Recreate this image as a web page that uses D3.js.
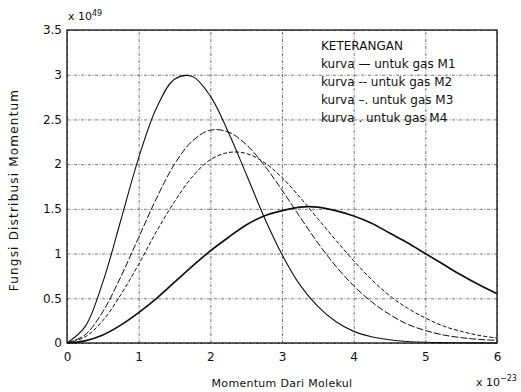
<!DOCTYPE html>
<html>
<head>
<meta charset="utf-8">
<script src="https://cdn.jsdelivr.net/npm/d3@7"></script>
<style>
  body { margin: 0; background: #fff; }
  svg text { font-family: "DejaVu Sans", sans-serif; fill: #111; }
</style>
</head>
<body>
<svg class="chart"></svg>
<script>
let width = 521, height = 392;
let margin = { top: 30, right: 24, bottom: 49, left: 67 };
let w = width - margin.left - margin.right;
let h = height - margin.top - margin.bottom;

// momentum (x 10^-23)
let momentum = [0, 0.25, 0.5, 0.75, 1, 1.25, 1.5, 1.75, 2, 2.25, 2.5, 2.75, 3, 3.25, 3.5,
  3.75, 4, 4.25, 4.5, 4.75, 5, 5.25, 5.5, 5.75, 6];

// distribution values (x 10^49)
let gasM1 = [0, 0.18, 0.68, 1.37, 2.07, 2.63, 2.95, 2.98, 2.76, 2.36, 1.89, 1.41, 0.99,
  0.65, 0.41, 0.24, 0.13, 0.07, 0.036, 0.017, 0.008, 0.004, 0.002, 0.001, 0];
let gasM2 = [0, 0.09, 0.35, 0.74, 1.18, 1.62, 2.0, 2.26, 2.38, 2.36, 2.22, 1.99, 1.71,
  1.41, 1.12, 0.86, 0.64, 0.46, 0.32, 0.21, 0.14, 0.09, 0.06, 0.04, 0.03];
let gasM3 = [0, 0.066, 0.25, 0.54, 0.88, 1.25, 1.58, 1.86, 2.05, 2.13, 2.12, 2.02, 1.85,
  1.63, 1.39, 1.15, 0.92, 0.71, 0.53, 0.39, 0.28, 0.19, 0.13, 0.085, 0.055];
let gasM4 = [0, 0.023, 0.09, 0.2, 0.34, 0.5, 0.68, 0.86, 1.03, 1.18, 1.32, 1.42, 1.48,
  1.52, 1.52, 1.48, 1.42, 1.34, 1.23, 1.12, 1.0, 0.88, 0.76, 0.65, 0.55];

let xTicks = [0, 1, 2, 3, 4, 5, 6];
let yTicks = [0, 0.5, 1, 1.5, 2, 2.5, 3, 3.5];
let legendLines = ["kurva \u2014  untuk gas M1", "kurva -- untuk gas M2",
  "kurva \u2013. untuk gas M3", "kurva . untuk gas M4"];

let series = [
  { values: gasM1, dash: null, sw: 1.1 },
  { values: gasM2, dash: "7,2", sw: 1 },
  { values: gasM3, dash: "4,2", sw: 1 },
  { values: gasM4, dash: null, sw: 1.7 }
];

let x = d3.scaleLinear().domain([0, 6]).range([0, w]);
let y = d3.scaleLinear().domain([0, 3.5]).range([h, 0]);

let svg = d3.select(".chart").attr("width", width).attr("height", height);
let chart = svg.append("g")
  .attr("transform", "translate(" + margin.left + "," + margin.top + ")");

// grid
chart.append("g")
  .attr("class", "grid")
  .attr("transform", "translate(0," + h + ")")
  .call(d3.axisBottom(x).tickValues(xTicks).tickSize(-h).tickFormat(""))
  .call(g => g.select(".domain").remove());
chart.append("g")
  .attr("class", "grid")
  .call(d3.axisLeft(y).tickValues(yTicks).tickSize(-w).tickFormat(""))
  .call(g => g.select(".domain").remove());
chart.selectAll(".grid line")
  .style("stroke", "#555")
  .style("stroke-width", 0.8)
  .style("stroke-dasharray", "3,1.5,1,1.5");

// curves
let line = d3.line()
  .x((d, i) => x(momentum[i]))
  .y(d => y(d))
  .curve(d3.curveCatmullRom.alpha(0.5));

series.forEach(s => {
  chart.append("path")
    .datum(s.values)
    .attr("d", line)
    .attr("fill", "none")
    .attr("stroke", "#111")
    .attr("stroke-width", s.sw)
    .attr("stroke-dasharray", s.dash);
});

// frame
chart.append("rect")
  .attr("width", w).attr("height", h)
  .attr("fill", "none")
  .attr("stroke", "#111")
  .attr("stroke-width", 1.3);

// axes labels
let xAxis = chart.append("g")
  .attr("transform", "translate(0," + h + ")")
  .call(d3.axisBottom(x).tickValues(xTicks).tickSize(0).tickPadding(9).tickFormat(d3.format("d")));
let yAxis = chart.append("g")
  .call(d3.axisLeft(y).tickValues(yTicks).tickSize(0).tickPadding(5).tickFormat(d3.format("~g")));
[xAxis, yAxis].forEach(a => {
  a.select(".domain").remove();
  a.selectAll("text").style("font-size", "12px").style("font-family", "DejaVu Sans, sans-serif").style("fill", "#111");
});

// exponent labels
let e1 = svg.append("text").attr("x", 68).attr("y", 20).style("font-size", "11px");
e1.append("tspan").text("x 10");
e1.append("tspan").attr("dy", -4).style("font-size", "8px").text("49");

let e2 = svg.append("text").attr("x", 476).attr("y", 386).style("font-size", "11px");
e2.append("tspan").text("x 10");
e2.append("tspan").attr("dy", -5).style("font-size", "8px").text("\u221223");

// axis titles
svg.append("text")
  .attr("x", margin.left + w / 2).attr("y", 387)
  .attr("text-anchor", "middle")
  .style("font-size", "11px")
  .style("letter-spacing", "0.3px")
  .text("Momentum Dari Molekul");

svg.append("text")
  .attr("transform", "translate(18,190) rotate(-90)")
  .attr("text-anchor", "middle")
  .style("font-size", "12px")
  .style("letter-spacing", "1.2px")
  .text("Fungsi Distribusi Momentum");

// legend text
let legend = svg.append("g").attr("transform", "translate(321,50)");
legend.append("text").attr("y", 0).style("font-size", "12px").text("KETERANGAN");
legend.selectAll(".leg")
  .data(legendLines)
  .enter().append("text")
  .attr("class", "leg")
  .attr("y", (d, i) => 18 * (i + 1))
  .style("font-size", "12px")
  .text(d => d);
</script>
</body>
</html>
